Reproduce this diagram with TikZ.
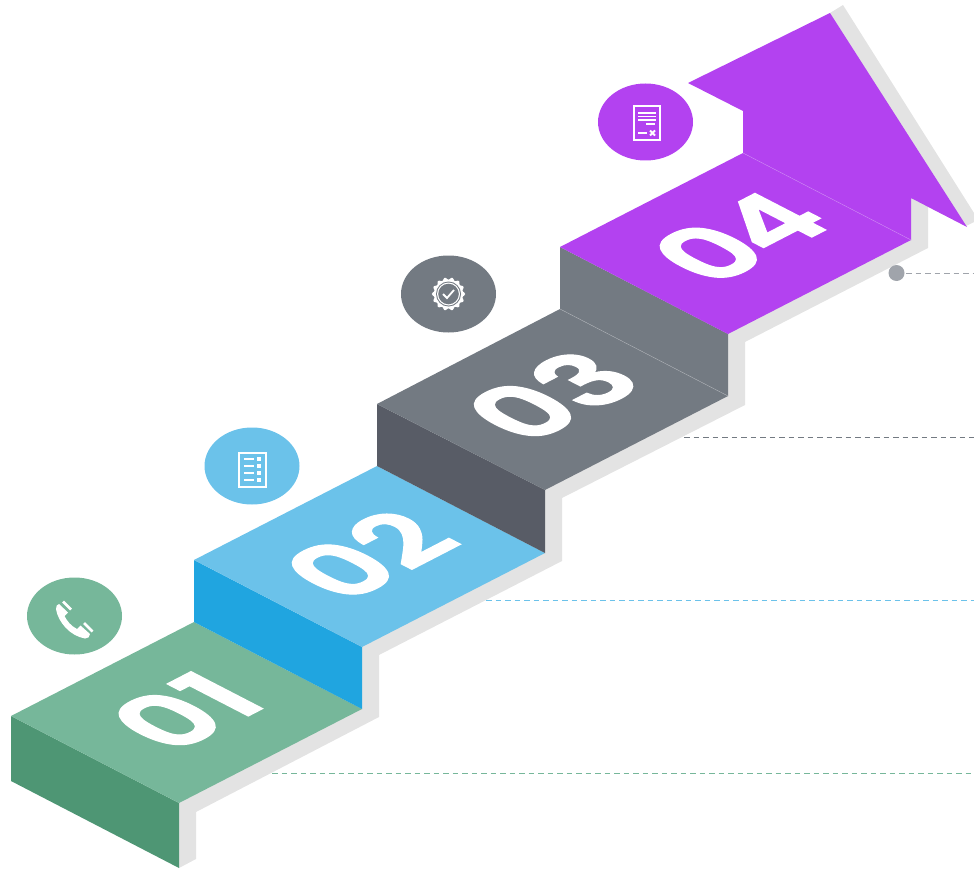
\documentclass[tikz,border=0pt]{standalone}
\usepackage{fontspec}
\setmainfont{Poppins}[BoldFont={Poppins SemiBold},BoldFeatures={FakeBold=1.5}]
\definecolor{shadowc}{HTML}{E3E3E3}
\definecolor{purp}{HTML}{B342F0}
\definecolor{slatec}{HTML}{737A82}
\definecolor{darkc}{HTML}{585C66}
\definecolor{skyc}{HTML}{6BC2EA}
\definecolor{bluec}{HTML}{20A5E0}
\definecolor{greenc}{HTML}{76B79A}
\definecolor{dgreen}{HTML}{4E9674}
\definecolor{dotc}{HTML}{A0A4AB}
\usetikzlibrary{shapes.geometric}
\tikzset{
 badge/.style={ellipse,minimum width=95pt,minimum height=77pt,inner sep=0pt},
 numeral/.style={text=white,font=\bfseries\fontsize{110}{110}\selectfont,inner sep=0pt,transform shape},
 leader/.style={dash pattern=on 5.5pt off 4pt,line width=1pt},
 iconline/.style={draw=white,line width=2pt},
 iconbar/.style={draw=white,line width=1.7pt},
}
\begin{document}
\begin{tikzpicture}[x=1pt,y=-1pt]
\useasboundingbox (0,0) rectangle (974,869);
% shadow
\fill[shadowc] (179,868)--(196,859)--(196,812)--(379,717)--(379,655)--(562,561)--(562,498)--(745,405)--(745,342)--(928,248)--(928,207)--(966,226)--(974,222)--(974,213)--(843,5)--(830,13)--(800,100)--(179,800)--cycle;
% leaders
\coordinate (e1) at (974,773); \coordinate (e2) at (974,600); \coordinate (e3) at (974,437); \coordinate (e4) at (974,273);
\coordinate (s1) at (272,773); \coordinate (s2) at (486,600); \coordinate (s3) at (684,437); \coordinate (s4) at (906,273);
\draw[leader,draw=greenc] (s1)--(e1);
\draw[leader,draw=skyc] (s2)--(e2);
\draw[leader,draw=slatec] (s3)--(e3);
\draw[leader,draw=dotc] (s4)--(e4);
\node[circle,fill=dotc,minimum size=16pt,inner sep=0pt] (dot) at (896.5,273) {};
% step 1
\fill[dgreen] (11,716)--(179,803)--(179,868)--(11,781)--cycle;
\fill[greenc] (11,716)--(194,622)--(362,709)--(179,803)--cycle;
% step 2
\fill[bluec] (194,560)--(362,647)--(362,709)--(194,622)--cycle;
\fill[skyc] (194,560)--(377,466)--(545,553)--(362,647)--cycle;
% step 3
\fill[darkc] (377,404)--(545,490)--(545,553)--(377,466)--cycle;
\fill[slatec] (377,404)--(560,309)--(728,396)--(545,490)--cycle;
% step 4
\fill[slatec] (560,247)--(728,334)--(728,396)--(560,309)--cycle;
\draw[white!40!slatec,line width=0.4pt] (560,309)--(728,396);
\fill[purp] (560,247)--(743,153)--(911,240)--(728,334)--cycle;
\fill[purp] (743,153)--(743,111)--(688,83)--(830,13)--(967,227)--(911,198)--(911,240)--cycle;
\draw[white!35!purp,line width=0.4pt] (743,153)--(911,240);
% numerals
\node[numeral,cm={0.89,0.46,-0.89,0.46,(185,711)}] (n1) at (0,0) {01};
\node[numeral,cm={0.89,0.46,-0.89,0.46,(368.5,555)}] (n2) at (0,0) {02};
\node[numeral,cm={0.89,0.46,-0.89,0.46,(552,396)}] (n3) at (0,0) {03};
\node[numeral,cm={0.89,0.46,-0.89,0.46,(739,237)}] (n4) at (0,0) {0\kern-4pt 4};
% badges
\node[badge,fill=greenc] (b1) at (74.5,616) {};
\node[badge,fill=skyc] (b2) at (252,466) {};
\node[badge,fill=slatec] (b3) at (448.5,294) {};
\node[badge,fill=purp] (b4) at (645.5,122) {};
% phone icon
\fill[white] (56,609) .. controls (56,606) and (57,604.5) .. (59,604) -- (68,612.5) -- (64.5,616) .. controls (67,621) and (71,626) .. (77,629) -- (80.5,625.5) -- (90,634) .. controls (90,637) and (88,638.5) .. (85,638.5) .. controls (70,636) and (58,622) .. (56,609) -- cycle;
\draw[white,line width=2.6pt] (63,601.5)--(71,609.5);
\draw[white,line width=2.6pt] (84,623)--(92.5,631.5);
% list icon
\draw[iconline] (239,453) rectangle (265.5,487);
\foreach \ly in {459,466,473,480} {
  \draw[iconbar] (244,\ly)--(254,\ly);
  \fill[white] (257,\ly-2) rectangle (261,\ly+2);
}
% seal icon
\fill[white] plot[smooth cycle,samples=72,domain=0:355] ({448.5+(15.5+1.2*cos(14*\x))*cos(\x)},{294+(15.5+1.2*cos(14*\x))*sin(\x)});
\fill[slatec] (448.5,294) circle (12.5);
\fill[white] (448.5,294) circle (11.5);
\fill[slatec] (448.5,294) circle (10.3);
\draw[white,line width=1.8pt] (443,294)--(447,298)--(454,290);
% document icon
\draw[iconline] (633.5,106.5) rectangle (660,140);
\foreach \ly in {113,116.5,120} \draw[iconbar] (638,\ly)--(656,\ly);
\draw[iconbar] (646,124)--(655,124);
\draw[iconbar] (638,133)--(647,133);
\draw[white,line width=2pt] (650,130.5)--(655,135.5) (655,130.5)--(650,135.5);
\end{tikzpicture}
\end{document}
